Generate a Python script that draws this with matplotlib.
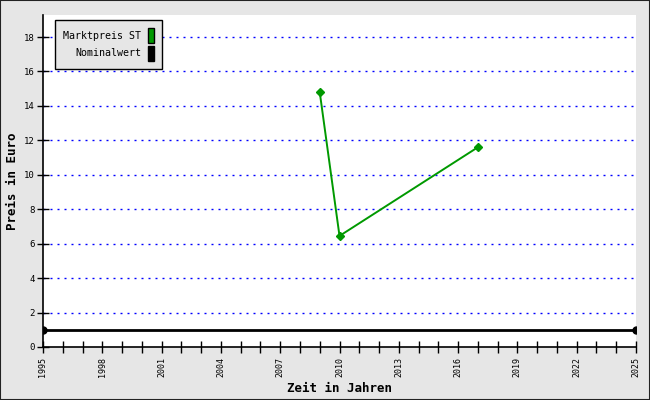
import matplotlib
matplotlib.use('Agg')
from matplotlib import pyplot as plt
from matplotlib.patches import Patch

# data
marktYears = [2009, 2010, 2017]
marktPrices = [14.8, 6.45, 11.6]
nominalYears = [1995, 2025]
nominalValues = [1.0, 1.0]
yTicks = [0, 2, 4, 6, 8, 10, 12, 14, 16, 18]
xLabelYears = list(range(1995, 2026, 3))
xMinorYears = list(range(1995, 2026))

plt.rcParams['font.family'] = 'DejaVu Sans Mono'

fig = plt.figure(figsize=[6.5, 4.0], dpi=100, facecolor='#e6e6e6')
ax = fig.add_axes([43 / 650, 53 / 400, 593 / 650, 332 / 400])
ax.set_facecolor('white')

for y in yTicks[1:]:
    ax.axhline(y, color='#0000ff', linestyle=(0, (1.44, 3.6)), linewidth=1.0, zorder=1)

ax.plot(nominalYears, nominalValues, color='black', linewidth=2, marker='o', markersize=5, zorder=3)
ax.plot(marktYears, marktPrices, color='#009900', linewidth=1.4, marker='D', markersize=4, zorder=4)

ax.set_xlim(1995, 2025)
ax.set_ylim(0, 19.28)
ax.set_xticks(xLabelYears)
ax.set_xticks(xMinorYears, minor=True)
ax.set_yticks(yTicks)
ax.set_xticklabels([str(y) for y in xLabelYears], rotation=90, fontsize=6)
ax.set_yticklabels([str(y) for y in yTicks], fontsize=6.5)
ax.tick_params(axis='x', which='both', direction='inout', length=8, width=1, pad=3)
ax.tick_params(axis='y', direction='inout', length=8, width=1, pad=2)

for s in ['top', 'right']:
    ax.spines[s].set_visible(False)
for s in ['left', 'bottom']:
    ax.spines[s].set_linewidth(1.2)

ax.set_xlabel('Zeit in Jahren', fontsize=9, fontweight='bold')
ax.set_ylabel('Preis in Euro', fontsize=9, fontweight='bold')
ax.xaxis.set_label_coords(0.5, -0.105)
ax.yaxis.set_label_coords(-0.04, 0.5)

handles = [Patch(facecolor='#009900', edgecolor='black', linewidth=1),
           Patch(facecolor='black', edgecolor='black', linewidth=1)]
leg = ax.legend(handles, ['Marktpreis ST', 'Nominalwert'], loc='upper left',
                bbox_to_anchor=(12 / 593, 1 - 5 / 332), borderaxespad=0,
                markerfirst=False, fontsize=7.2,
                handlelength=0.6, handleheight=1.9, handletextpad=0.7,
                labelspacing=0.3, borderpad=0.8, fancybox=False,
                framealpha=1, facecolor='#e6e6e6', edgecolor='black')
for t in leg.get_texts():
    t.set_ha('right')
leg.get_frame().set_linewidth(1)

# thin border round the whole figure
fig.patches.append(plt.Rectangle((0, 0), 1, 1, transform=fig.transFigure,
                                 fill=False, edgecolor='#222222', linewidth=1.5))

fig.savefig('out.png', dpi=100, facecolor=fig.get_facecolor())
